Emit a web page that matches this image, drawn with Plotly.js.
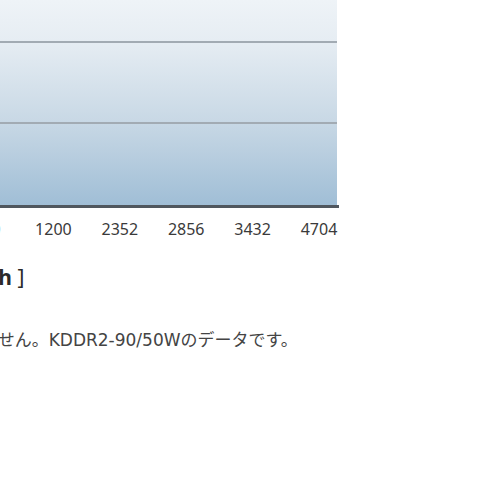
<!DOCTYPE html>
<html>
<head>
<meta charset="utf-8">
<script src="https://cdn.plot.ly/plotly-3.0.1.min.js"></script>
<style>
html,body{margin:0;padding:0;width:500px;height:500px;overflow:hidden;background:#fff;position:relative;}
#chart{position:absolute;left:-100px;top:-60px;width:600px;height:600px;}
</style>
</head>
<body>
<div id="chart"></div>
<script>
// Data read from the (cropped) reference
const categories = ["600", "1200", "2352", "2856", "3432", "4704"];
const values = [null, null, null, null, null, null];
const axisTitle = "<b>［kWh</b>&nbsp;<span style=\"font-weight:normal\">]</span>";
const noteText = "※グラフは目安であり、性能を保証するものではありません。<span style=\"font-family:'DejaVu Sans';font-size:17px\">KDDR2-90/50W</span>のデータです。";

const gradSvg = "<svg xmlns='http://www.w3.org/2000/svg' width='10' height='100' preserveAspectRatio='none'>" +
  "<defs><linearGradient id='g' x1='0' y1='0' x2='0' y2='1'>" +
  "<stop offset='0' stop-color='#f3f6f9'/>" +
  "<stop offset='0.17' stop-color='#eef3f7'/>" +
  "<stop offset='0.33' stop-color='#e6edf3'/>" +
  "<stop offset='0.66' stop-color='#c8d8e5'/>" +
  "<stop offset='1' stop-color='#a0bed6'/>" +
  "</linearGradient></defs><rect width='10' height='100' fill='url(#g)'/></svg>";
const gradUri = "data:image/svg+xml;charset=utf-8," + encodeURIComponent(gradSvg);

const trace = {
  type: "scatter",
  mode: "markers",
  x: categories,
  y: values,
  hoverinfo: "skip",
  showlegend: false
};

const layout = {
  width: 600,
  height: 600,
  margin: {l: 40, r: 163, t: 20, b: 335, pad: 0},
  paper_bgcolor: "rgba(0,0,0,0)",
  plot_bgcolor: "rgba(0,0,0,0)",
  showlegend: false,
  font: {family: "'Noto Sans', 'Noto Sans CJK JP', sans-serif", color: "#3c3c3c"},
  xaxis: {
    type: "category",
    range: [-0.708, 5.271],
    showgrid: false,
    zeroline: false,
    showline: true,
    linecolor: "#50575e",
    linewidth: 3,
    ticks: "",
    ticklabelstandoff: 8,
    tickfont: {size: 16, color: "#3a3a3a", family: "'Noto Sans', sans-serif"},
    fixedrange: true
  },
  yaxis: {
    range: [0, 3],
    dtick: 1,
    showgrid: true,
    gridcolor: "#a2abb3",
    gridwidth: 2,
    zeroline: false,
    showticklabels: false,
    ticks: "",
    showline: true,
    mirror: true,
    linecolor: "rgba(255,255,255,0.6)",
    linewidth: 2,
    fixedrange: true
  },
  images: [{
    source: gradUri,
    xref: "paper", yref: "paper",
    x: 0, y: 1, sizex: 1, sizey: 1,
    xanchor: "left", yanchor: "top",
    sizing: "stretch",
    layer: "below"
  }],
  annotations: [
    {
      text: axisTitle,
      xref: "paper", yref: "paper",
      x: 1, y: 0,
      xanchor: "right", yanchor: "middle",
      xshift: -311, yshift: -72,
      showarrow: false,
      font: {size: 21, color: "#2a2a2a", family: "'Noto Sans', 'Noto Sans CJK JP', sans-serif"}
    },
    {
      text: noteText,
      xref: "paper", yref: "paper",
      x: 1, y: 0,
      xanchor: "right", yanchor: "middle",
      xshift: -37, yshift: -133,
      showarrow: false,
      font: {size: 17, color: "#444444", family: "'Noto Sans CJK JP', sans-serif"}
    }
  ]
};

Plotly.newPlot("chart", [trace], layout, {displayModeBar: false, staticPlot: true});
</script>
</body>
</html>
